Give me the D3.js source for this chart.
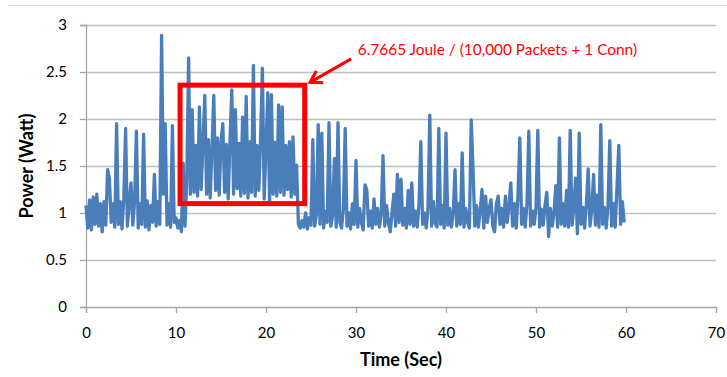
<!DOCTYPE html>
<html>
<meta charset="utf-8">
<script src="https://d3js.org/d3.v7.min.js"></script>
<style>
  body { margin: 0; background: #fff; }
  text { font-family: Lato, "Open Sans", sans-serif; }
</style>
<body>
<div id="chart"></div>
<script>

// one sample every 0.2 s, starting at t = 0
var sampleStep = 0.2;

// power (Watt), 5 samples per row = one second per row
var power = [
  1.08, 0.84, 1.14, 0.82, 1.17,
  0.88, 1.20, 0.86, 1.10, 0.80,
  1.12, 0.87, 1.46, 1.37, 0.90,
  1.10, 0.85, 1.95, 0.88, 1.12,
  0.83, 1.15, 1.90, 0.86, 1.10,
  1.32, 0.87, 1.12, 1.87, 0.84,
  1.10, 0.88, 1.84, 0.85, 1.13,
  0.82, 1.08, 0.90, 1.41, 0.86,
  1.12, 0.88, 2.89, 1.20, 1.95,
  0.87, 1.10, 0.85, 1.93, 0.90,
  0.95, 0.84, 0.92, 0.80, 1.53,
  0.86, 1.35, 2.65, 1.20, 2.10,
  1.22, 1.72, 1.18, 2.13, 1.25,
  1.75, 2.25, 1.20, 1.78, 1.16,
  1.70, 2.25, 1.24, 1.80, 1.19,
  1.76, 1.95, 1.22, 1.73, 1.15,
  1.78, 2.31, 1.20, 2.10, 1.26,
  1.74, 1.18, 2.02, 1.21, 2.24,
  1.16, 1.76, 1.22, 2.57, 1.18,
  1.72, 1.24, 1.79, 2.54, 1.15,
  1.70, 2.28, 1.10, 2.26, 1.20,
  1.75, 1.18, 2.15, 1.22, 2.13,
  1.19, 1.72, 1.25, 1.76, 1.17,
  1.81, 1.20, 1.51, 0.88, 0.84,
  0.92, 0.85, 1.00, 0.83, 0.95,
  0.87, 1.78, 0.86, 0.98, 1.94,
  0.88, 1.85, 0.84, 1.02, 0.90,
  1.96, 0.86, 0.97, 1.58, 0.85,
  1.96, 0.90, 0.84, 1.05, 1.90,
  0.86, 1.00, 0.83, 1.10, 0.88,
  1.56, 0.85, 1.05, 0.90, 0.82,
  1.30, 1.25, 0.86, 1.02, 0.84,
  1.15, 0.88, 1.05, 0.85, 0.98,
  1.61, 0.86, 1.08, 0.90, 0.80,
  1.00, 1.20, 0.86, 1.41, 0.90,
  1.36, 0.87, 1.05, 0.84, 1.24,
  0.88, 1.32, 0.86, 1.02, 0.85,
  1.10, 1.76, 0.88, 1.00, 0.84,
  1.05, 2.04, 0.86, 1.12, 0.89,
  0.85, 1.90, 0.88, 1.08, 0.84,
  1.85, 0.87, 1.05, 0.85, 1.00,
  1.46, 0.86, 1.10, 0.88, 1.64,
  0.85, 1.05, 0.90, 0.84, 1.99,
  1.49, 0.86, 1.08, 0.85, 1.02,
  1.25, 0.84, 1.18, 0.90, 1.05,
  1.14, 0.86, 0.80, 1.10, 1.18,
  0.88, 1.05, 0.85, 1.18, 0.90,
  1.08, 1.32, 0.86, 1.10, 0.84,
  1.20, 1.80, 0.88, 1.05, 0.85,
  1.10, 1.87, 0.86, 1.02, 0.88,
  1.06, 1.88, 0.85, 1.04, 0.87,
  1.08, 1.22, 0.75, 1.05, 0.86,
  1.00, 1.29, 0.85, 1.80, 0.88,
  1.10, 0.86, 1.24, 0.85, 1.88,
  0.87, 1.05, 1.37, 0.78, 1.85,
  0.88, 1.06, 0.84, 1.10, 1.47,
  0.86, 1.04, 1.41, 0.87, 1.19,
  0.85, 1.94, 0.88, 1.06, 0.84,
  1.08, 1.77, 0.86, 1.10, 0.85,
  1.28, 1.72, 0.88, 1.12, 0.90
];

var xTicks = [0, 10, 20, 30, 40, 50, 60, 70];
var yTicks = [0, 0.5, 1, 1.5, 2, 2.5, 3];

// highlighted window and its note
var boxTime = [10.45, 24.3];
var boxPower = [1.1, 2.36];
var arrowTail = [29.45, 2.64];
var arrowTip = [24.9, 2.39];
var noteAt = [30.2, 2.68];
var noteText = "6.7665 Joule / (10,000 Packets + 1 Conn)";

var margin = {top: 25, right: 11, bottom: 70, left: 86},
    width = 727 - margin.left - margin.right,
    height = 377 - margin.top - margin.bottom;

var root = d3.select("#chart")
  .append("svg")
    .attr("width", 727)
    .attr("height", 377);

// chart area border (top edge visible)
root.append("line")
  .attr("x1", 8).attr("x2", 727)
  .attr("y1", 5.5).attr("y2", 5.5)
  .style("stroke", "#d9d9d9");

var svg = root.append("g")
  .attr("transform", "translate(" + margin.left + "," + margin.top + ")");

var x = d3.scaleLinear().domain([0, 70]).range([0, width]);
var y = d3.scaleLinear().domain([0, 3]).range([height, 0]);

// gridlines
svg.append("g")
  .selectAll("line")
  .data(yTicks.filter(function(d) { return d > 0; }))
  .enter()
  .append("line")
    .attr("x1", 0).attr("x2", width)
    .attr("y1", function(d) { return Math.round(y(d)) + 0.5; })
    .attr("y2", function(d) { return Math.round(y(d)) + 0.5; })
    .style("stroke", "#bfbfbf")
    .style("stroke-width", 1.3);

// Y axis
var yAxis = svg.append("g")
  .call(d3.axisLeft(y).tickValues(yTicks).tickSize(6).tickPadding(13)
        .tickFormat(function(d) { return d; }));
yAxis.selectAll("path, line").style("stroke", "#a6a6a6").style("stroke-width", 1.3);
yAxis.selectAll("text").style("font-size", "15px").style("fill", "#000");

// X axis
var xAxis = svg.append("g")
  .attr("transform", "translate(0," + height + ")")
  .call(d3.axisBottom(x).tickValues(xTicks).tickSize(6).tickPadding(14));
xAxis.selectAll("path, line").style("stroke", "#a6a6a6").style("stroke-width", 1.3);
xAxis.selectAll("text").style("font-size", "15px").style("fill", "#000");

// power trace
var line = d3.line()
  .x(function(d, i) { return x(i * sampleStep); })
  .y(function(d) { return y(d); });

svg.append("path")
  .datum(power)
  .attr("d", line)
  .style("fill", "none")
  .style("stroke", "#4a7ebb")
  .style("stroke-width", 3.3)
  .style("stroke-linejoin", "round");

// highlight box
svg.append("rect")
  .attr("x", x(boxTime[0]))
  .attr("y", y(boxPower[1]))
  .attr("width", x(boxTime[1]) - x(boxTime[0]))
  .attr("height", y(boxPower[0]) - y(boxPower[1]))
  .style("fill", "none")
  .style("stroke", "#ff0000")
  .style("stroke-width", 5);

// arrow
var tx = x(arrowTail[0]), ty = y(arrowTail[1]),
    hx = x(arrowTip[0]), hy = y(arrowTip[1]);
var ang = Math.atan2(ty - hy, tx - hx), len = 13;
svg.append("line")
  .attr("x1", tx).attr("y1", ty).attr("x2", hx).attr("y2", hy)
  .style("stroke", "#ff0000").style("stroke-width", 3);
svg.append("path")
  .attr("d", "M" + (hx + len * Math.cos(ang - 0.55)) + "," + (hy + len * Math.sin(ang - 0.55)) +
             "L" + hx + "," + hy +
             "L" + (hx + len * Math.cos(ang + 0.55)) + "," + (hy + len * Math.sin(ang + 0.55)))
  .style("fill", "none")
  .style("stroke", "#ff0000")
  .style("stroke-width", 3);

svg.append("text")
  .attr("x", x(noteAt[0]))
  .attr("y", y(noteAt[1]))
  .style("font-size", "15.4px")
  .style("fill", "#ff0000")
  .text(noteText);

// axis titles
root.append("text")
  .attr("transform", "translate(33," + (margin.top + height / 2) + ")rotate(-90)")
  .attr("text-anchor", "middle")
  .style("font-size", "18px")
  .style("font-weight", "bold")
  .text("Power (Watt)");

root.append("text")
  .attr("x", margin.left + width / 2)
  .attr("y", 366)
  .attr("text-anchor", "middle")
  .style("font-size", "18px")
  .style("font-weight", "bold")
  .text("Time (Sec)");

</script>
</body>
</html>
